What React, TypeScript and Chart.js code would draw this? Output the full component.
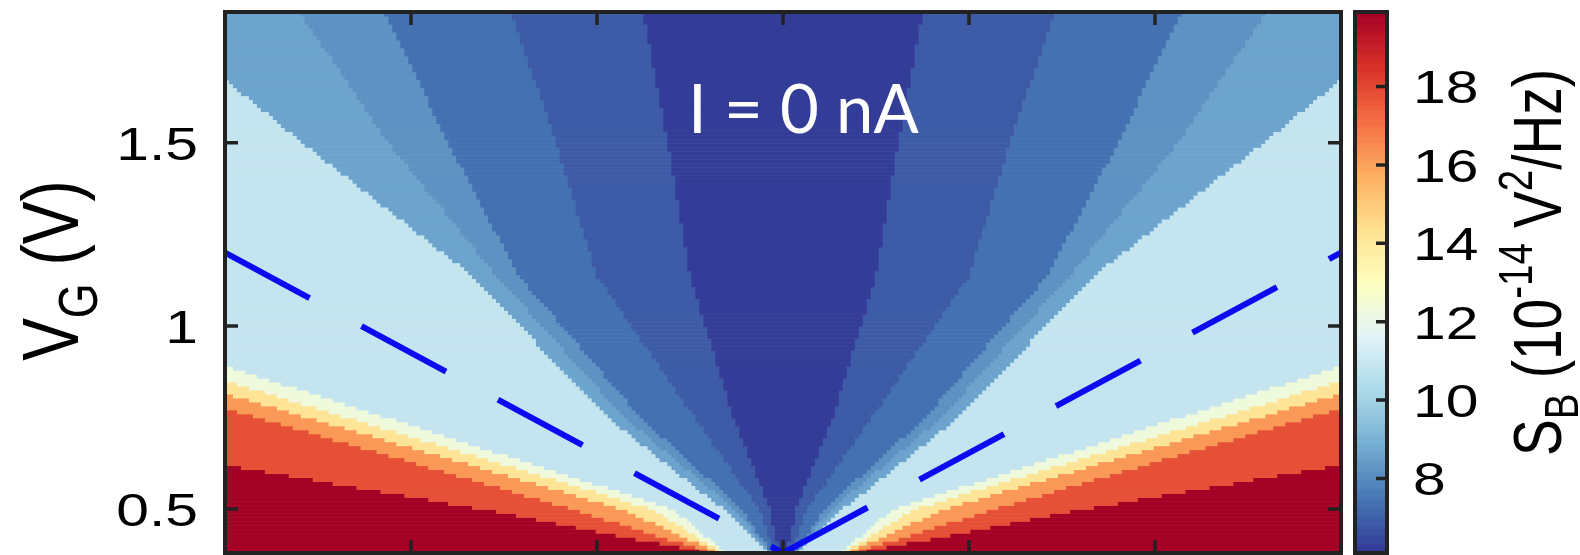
import React, { useEffect, useRef } from "react";
import { Chart, registerables } from "chart.js";

Chart.register(...registerables);

// ---------- axes ----------
const currentRange = [-3, 3]; // I (nA), x axis (its tick labels lie outside the crop)
const gateRange = [0.38, 1.857]; // V_G (V)
const currentTicks = [-2, -1, 0, 1, 2];
const gateTicks = [0.5, 1, 1.5];
const gateTickLabels = ["0.5", "1", "1.5"];
const noiseRange = [6.1, 19.9]; // colour bar, 10^-14 V^2/Hz
const noiseTicks = [8, 10, 12, 14, 16, 18];
const noiseTickLabels = ["8", "10", "12", "14", "16", "18"];

// ---------- heat-map bands ----------
// the fan of bands opens from the vertex at I = 0, V_G = 0.38
const bandLevelVG = [0.38, 0.5, 0.754, 1.137, 1.5, 1.857];
// |I| (nA) of each band edge at those V_G levels, inner to outer
const edgeCore = [0.02, 0.07, 0.27, 0.5, 0.62, 0.75];
const edgeBlue1 = [0.04, 0.13, 0.48, 1.0, 1.22, 1.46];
const edgeBlue2 = [0.06, 0.22, 0.77, 1.42, 1.8, 2.14];
const edgeBlue3 = [0.07, 0.26, 0.86, 1.54, 2.12, 2.6];
const edgeCyan = [0.08, 0.32, 0.95, 1.67, 2.58, 3.44];
const edgePale = [0.3, 0.59, 2.15, 4.52, 6.77, 9.03];
const edgeYellow = [0.32, 0.7, 2.37, 4.84, 7.26, 9.68];
const edgeOrange = [0.34, 0.86, 2.58, 5.16, 7.74, 10.32];
const edgeRed = [0.37, 1.13, 2.85, 5.59, 8.28, 10.97];
const edgeDarkRed = [0.4, 1.61, 4.52, 8.66, 12.58, 16.45];
// S_B of each band (10^-14 V^2/Hz), core first, saturated last
const bandSB = [6.25, 6.9, 7.4, 8.2, 8.65, 10.9, 12.3, 14.2, 16.2, 17.8, 20.0];

// dashed guide lines
const guideI = [-3, 0, 3];
const guideVG = [1.2, 0.38, 1.2];

// panel label
const panelLabel = "I = 0 nA";
const panelLabelI = 0.11;
const panelLabelVG = 1.527;

// ---------- style ----------
const heatCols = 280;
const heatRows = 136;
const rdylbu = [
  "#313695", "#4575b4", "#74add1", "#abd9e9", "#e0f3f8", "#ffffbf",
  "#fee090", "#fdae61", "#f46d43", "#d73027", "#a50026",
];
const frameColor = "#222222";
const textColor = "#000000";
const axisFont = "'Liberation Sans', Arial, sans-serif";
const stretchX = 1.25;

function hexRgb(h: string) {
  const n = parseInt(h.slice(1), 16);
  return [(n >> 16) & 255, (n >> 8) & 255, n & 255];
}
const stopRgb = rdylbu.map(hexRgb);

function sbColor(v: number) {
  let t = (v - noiseRange[0]) / (noiseRange[1] - noiseRange[0]);
  t = Math.max(0, Math.min(1, t));
  const p = t * (stopRgb.length - 1);
  const i = Math.min(Math.floor(p), stopRgb.length - 2);
  const f = p - i;
  const a = stopRgb[i], b = stopRgb[i + 1];
  const c = a.map((av, k) => Math.round(av + (b[k] - av) * f));
  return `rgb(${c[0]},${c[1]},${c[2]})`;
}

const bandEdges = [
  edgeCore, edgeBlue1, edgeBlue2, edgeBlue3, edgeCyan,
  edgePale, edgeYellow, edgeOrange, edgeRed, edgeDarkRed,
];

function edgesAt(vg: number) {
  let k = 0;
  while (k < bandLevelVG.length - 2 && vg > bandLevelVG[k + 1]) k++;
  let f = (vg - bandLevelVG[k]) / (bandLevelVG[k + 1] - bandLevelVG[k]);
  f = Math.max(0, f);
  return bandEdges.map((e) => e[k] + f * (e[k + 1] - e[k]));
}

function drawStretched(
  ctx: CanvasRenderingContext2D, text: string, x: number, y: number,
  align: CanvasTextAlign, font: string
) {
  ctx.save();
  ctx.translate(x, y);
  ctx.scale(stretchX, 1);
  ctx.font = font;
  ctx.textAlign = align;
  ctx.textBaseline = "alphabetic";
  ctx.fillText(text, 0, 0);
  ctx.restore();
}

type Seg = { t: string; s: number; dy: number };
function drawRotatedRich(
  ctx: CanvasRenderingContext2D, segs: Seg[], baseX: number, centerY: number, size: number
) {
  ctx.save();
  ctx.translate(baseX, centerY);
  ctx.scale(stretchX, 1);
  ctx.rotate(-Math.PI / 2);
  ctx.textBaseline = "alphabetic";
  ctx.textAlign = "left";
  let total = 0;
  const widths = segs.map((sg) => {
    ctx.font = `${size * sg.s}px ${axisFont}`;
    const w = ctx.measureText(sg.t).width;
    total += w;
    return w;
  });
  let x = -total / 2;
  segs.forEach((sg, i) => {
    ctx.font = `${size * sg.s}px ${axisFont}`;
    ctx.fillText(sg.t, x, sg.dy * size);
    x += widths[i];
  });
  ctx.restore();
}

const heatmapPlugin = {
  id: "heatmap",
  beforeDatasetsDraw(chart: any) {
    const { ctx, chartArea: ca, scales } = chart;
    const xs = scales.x, ys = scales.y;
    const colors = bandSB.map(sbColor);
    const dI = (currentRange[1] - currentRange[0]) / heatCols;
    const dV = (gateRange[1] - gateRange[0]) / heatRows;
    ctx.save();
    ctx.beginPath();
    ctx.rect(ca.left, ca.top, ca.right - ca.left, ca.bottom - ca.top);
    ctx.clip();
    for (let j = 0; j < heatRows; j++) {
      const vg = gateRange[0] + (j + 0.5) * dV;
      const e = edgesAt(vg);
      const py0 = ys.getPixelForValue(gateRange[0] + (j + 1) * dV);
      const py1 = ys.getPixelForValue(gateRange[0] + j * dV);
      let runStart = 0;
      let runBand = -1;
      for (let i = 0; i <= heatCols; i++) {
        let b = -2;
        if (i < heatCols) {
          const a = Math.abs(currentRange[0] + (i + 0.5) * dI);
          b = 0;
          while (b < e.length && a > e[b]) b++;
        }
        if (b !== runBand) {
          if (runBand >= 0) {
            const px0 = xs.getPixelForValue(currentRange[0] + runStart * dI);
            const px1 = xs.getPixelForValue(currentRange[0] + i * dI);
            ctx.fillStyle = colors[runBand];
            ctx.fillRect(px0, py0, px1 - px0 + 0.6, py1 - py0 + 0.6);
          }
          runBand = b;
          runStart = i;
        }
      }
    }
    ctx.restore();
  },
};

const mainFramePlugin = {
  id: "mainFrame",
  afterDraw(chart: any) {
    const { ctx, chartArea: ca, scales } = chart;
    const xs = scales.x, ys = scales.y;
    ctx.save();
    // panel label
    ctx.fillStyle = "#ffffff";
    ctx.font = "67px Lato, 'Open Sans', sans-serif";
    ctx.textAlign = "center";
    ctx.textBaseline = "alphabetic";
    ctx.fillText(panelLabel, xs.getPixelForValue(panelLabelI), ys.getPixelForValue(panelLabelVG));

    // frame
    ctx.strokeStyle = frameColor;
    ctx.lineWidth = 4;
    ctx.strokeRect(ca.left, ca.top, ca.right - ca.left, ca.bottom - ca.top);
    // ticks
    ctx.lineWidth = 3.5;
    const tl = 13;
    ctx.beginPath();
    gateTicks.forEach((v) => {
      const py = ys.getPixelForValue(v);
      ctx.moveTo(ca.left, py); ctx.lineTo(ca.left + tl, py);
      ctx.moveTo(ca.right, py); ctx.lineTo(ca.right - tl, py);
    });
    currentTicks.forEach((v) => {
      const px = xs.getPixelForValue(v);
      ctx.moveTo(px, ca.top); ctx.lineTo(px, ca.top + tl);
      ctx.moveTo(px, ca.bottom); ctx.lineTo(px, ca.bottom - tl);
    });
    ctx.stroke();
    // tick labels
    ctx.fillStyle = textColor;
    const fs = 47;
    gateTicks.forEach((v, i) => {
      const py = ys.getPixelForValue(v);
      drawStretched(ctx, gateTickLabels[i], ca.left - 27, py + fs * 0.358, "right", `${fs}px ${axisFont}`);
    });
    // axis title
    drawRotatedRich(
      ctx,
      [
        { t: "V", s: 1, dy: 0 },
        { t: "G", s: 0.7, dy: 0.24 },
        { t: " (V)", s: 1, dy: 0 },
      ],
      ca.left - 147,
      (ca.top + ca.bottom) / 2 - 12,
      64
    );
    ctx.restore();
  },
};

const colorbarPlugin = {
  id: "colorbar",
  beforeDatasetsDraw(chart: any) {
    const { ctx, chartArea: ca, scales } = chart;
    const ys = scales.y;
    const steps = 300;
    const dv = (noiseRange[1] - noiseRange[0]) / steps;
    ctx.save();
    for (let k = 0; k < steps; k++) {
      const v0 = noiseRange[0] + k * dv;
      const pa = ys.getPixelForValue(v0);
      const pb = ys.getPixelForValue(v0 + dv);
      ctx.fillStyle = sbColor(v0 + dv / 2);
      ctx.fillRect(ca.left, pb, ca.right - ca.left, pa - pb + 0.6);
    }
    ctx.restore();
  },
  afterDraw(chart: any) {
    const { ctx, chartArea: ca, scales } = chart;
    const ys = scales.y;
    ctx.save();
    ctx.strokeStyle = frameColor;
    ctx.lineWidth = 4;
    ctx.strokeRect(ca.left, ca.top, ca.right - ca.left, ca.bottom - ca.top);
    ctx.lineWidth = 3.5;
    ctx.beginPath();
    noiseTicks.forEach((v) => {
      const py = ys.getPixelForValue(v);
      ctx.moveTo(ca.right, py); ctx.lineTo(ca.right - 11, py);
    });
    ctx.stroke();
    ctx.fillStyle = textColor;
    const fs = 47;
    noiseTicks.forEach((v, i) => {
      const py = ys.getPixelForValue(v);
      drawStretched(ctx, noiseTickLabels[i], ca.right + 26, py + fs * 0.358, "left", `${fs}px ${axisFont}`);
    });
    drawRotatedRich(
      ctx,
      [
        { t: "S", s: 1, dy: 0 },
        { t: "B", s: 0.7, dy: 0.24 },
        { t: " (10", s: 1, dy: 0 },
        { t: "-14", s: 0.7, dy: -0.42 },
        { t: " V", s: 1, dy: 0 },
        { t: "2", s: 0.7, dy: -0.42 },
        { t: "/Hz)", s: 1, dy: 0 },
      ],
      ca.right + 174,
      (ca.top + ca.bottom) / 2 - 20,
      55
    );
    ctx.restore();
  },
};

export default function App() {
  const mainRef = useRef<HTMLCanvasElement>(null);
  const barRef = useRef<HTMLCanvasElement>(null);

  useEffect(() => {
    const guideColor = "#0b0bf2";
    const leftGuide = [0, 1].map((k) => ({ x: guideI[k], y: guideVG[k] }));
    const rightGuide = [1, 2].map((k) => ({ x: guideI[k], y: guideVG[k] }));

    const main = new Chart(mainRef.current as HTMLCanvasElement, {
      type: "scatter",
      data: {
        datasets: [
          {
            data: leftGuide,
            showLine: true,
            borderColor: guideColor,
            borderWidth: 6,
            borderDash: [96, 59],
            pointRadius: 0,
            fill: false,
          },
          {
            data: rightGuide,
            showLine: true,
            borderColor: guideColor,
            borderWidth: 6,
            borderDash: [96, 59],
            pointRadius: 0,
            fill: false,
          },
        ],
      },
      options: {
        responsive: false,
        animation: false,
        layout: { padding: { left: 225, right: 9, top: 12, bottom: 2 } },
        scales: {
          x: { type: "linear", min: currentRange[0], max: currentRange[1], display: false },
          y: { type: "linear", min: gateRange[0], max: gateRange[1], display: false },
        },
        plugins: { legend: { display: false }, tooltip: { enabled: false } },
      },
      plugins: [heatmapPlugin, mainFramePlugin],
    } as any);

    const bar = new Chart(barRef.current as HTMLCanvasElement, {
      type: "scatter",
      data: { datasets: [] },
      options: {
        responsive: false,
        animation: false,
        layout: { padding: { left: 10, right: 193, top: 12, bottom: 2 } },
        scales: {
          x: { type: "linear", min: 0, max: 1, display: false },
          y: { type: "linear", min: noiseRange[0], max: noiseRange[1], display: false },
        },
        plugins: { legend: { display: false }, tooltip: { enabled: false } },
      },
      plugins: [colorbarPlugin],
    } as any);

    return () => {
      main.destroy();
      bar.destroy();
    };
  }, []);

  return (
    <div style={{ position: "absolute", left: 0, top: 0, width: 1580, height: 555, background: "#ffffff", overflow: "hidden" }}>
      <canvas
        ref={mainRef}
        width={1350}
        height={555}
        style={{ position: "absolute", left: 0, top: 0, width: 1350, height: 555 }}
      />
      <canvas
        ref={barRef}
        width={235}
        height={555}
        style={{ position: "absolute", left: 1345, top: 0, width: 235, height: 555 }}
      />
    </div>
  );
}
